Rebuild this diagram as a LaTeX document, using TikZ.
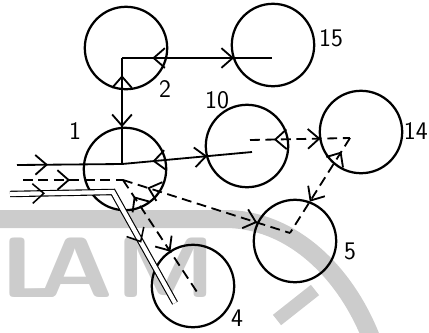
\documentclass[tikz,border=0pt]{standalone}
\usepackage{tikz}
\usetikzlibrary{positioning, arrows.meta, calc, decorations.markings}
\definecolor{wmgray}{RGB}{204,204,204}
\tikzset{
  station/.style={circle, draw=black, line width=1.6pt, minimum size=2.06cm, inner sep=0pt},
  link/.style={line width=1.3pt},
  dlink/.style={line width=1.3pt, dash pattern=on 7pt off 4pt},
  route/.style={double, double distance=3pt, line width=0.8pt},
  numlabel/.style={font=\sffamily\fontsize{18}{22}\selectfont, inner sep=0pt},
  wmark/.style={draw=wmgray, line width=0.45cm},
  wmletter/.style={text=wmgray, font=\sffamily\bfseries\fontsize{61}{61}\selectfont, inner sep=0pt, anchor=base, xscale=1.2, transform shape},
  twotips/.style 2 args={postaction={decorate}, decoration={markings,
      mark=at position #1 with {\arrow{<}},
      mark=at position #2 with {\arrow{>}}}},
  onetip/.style={postaction={decorate}, decoration={markings,
      mark=at position #1 with {\arrow{>}}}},
  fwdtips/.style 2 args={postaction={decorate}, decoration={markings,
      mark=at position #1 with {\arrow{>}},
      mark=at position #2 with {\arrow{>}}}},
  >={Straight Barb[length=8pt, width=14pt]}
}

\begin{document}
\begin{tikzpicture}[x=0.025cm, y=-0.025cm]
  \useasboundingbox (0,0) rectangle (429,332);
  \clip (0,0) rectangle (429,332);

  % Marca de agua
  \draw[wmark] (0,219) -- (225,219) .. controls (290,219) and (345,270) .. (372,340);
  \draw[wmark, line width=0.33cm] (277,320) -- (315,290);
  \node[wmletter, anchor=base west] (wmL) at (0,297) {L};
  \node[wmletter] (wmA) at (76,297) {A};
  \node[wmletter] (wmM) at (166,297) {M};

  % Estaciones
  \node[station] (n2) at (126,48) {};
  \node[station] (n15) at (273,45) {};
  \node[station] (n1) at (125,169) {};
  \node[station] (n10) at (247,146) {};
  \node[station] (n14) at (361,132) {};
  \node[station] (n5) at (295,241) {};
  \node[station] (n4) at (193,286) {};

  % Numeros
  \node[numlabel] (l1) at (75,131) {1};
  \node[numlabel] (l2) at (165,89) {2};
  \node[numlabel] (l15) at (331,38) {15};
  \node[numlabel] (l10) at (217,100) {10};
  \node[numlabel, anchor=east] (l14) at (428,131) {14};
  \node[numlabel] (l5) at (350,251) {5};
  \node[numlabel] (l4) at (237,318) {4};

  % Puntos de union dentro de cada circulo
  \coordinate (j2) at ($(n2)+(-4,10)$);
  \coordinate (j15) at ($(n15)+(-1,13)$);
  \coordinate (j1) at ($(n1)+(-3,-5)$);
  \coordinate (j1d) at ($(n1)+(-2,11)$);
  \coordinate (j10) at ($(n10)+(5,6)$);
  \coordinate (j10d) at ($(n10)+(3,-6)$);
  \coordinate (j14) at ($(n14)+(-11,6)$);
  \coordinate (j5) at ($(n5)+(-5,-8)$);
  \coordinate (j4) at ($(n4)+(4,6)$);
  \coordinate (j4r) at ($(n4)+(-18,17)$);

  % Entradas por la izquierda
  \coordinate (in1) at (17,165);
  \coordinate (in2) at (23,180);
  \coordinate (in3) at (10,194);
  \coordinate (bend) at (113,192);

  % Conexiones continuas
  \draw[link, twotips={0.292}{0.747}] (j2) -- (j15);
  \draw[link, twotips={0.29}{0.652}] (j2) -- (j1);
  \draw[link, twotips={0.3385}{0.656}] (j1) -- (j10);
  \draw[link, onetip=0.295] (in1) -- (j1);

  % Conexiones discontinuas
  \draw[dlink, twotips={0.3744}{0.7053}] (j10d) -- (j14);
  \draw[dlink, twotips={0.2634}{0.6704}] (j14) -- (j5);
  \draw[dlink, twotips={0.2231}{0.8038}] (j1d) -- (j5);
  \draw[dlink, twotips={0.2474}{0.6409}] (j1d) -- (j4);
  \draw[dlink, onetip=0.47] (in2) -- (j1d);

  % Linea doble (las puntas van aparte para que salgan sencillas)
  \draw[route] (in3) -- (bend) -- (j4r);
  \path[line width=1.1pt, fwdtips={0.152}{0.70}] (in3) -- (bend) -- (j4r);
\end{tikzpicture}
\end{document}
